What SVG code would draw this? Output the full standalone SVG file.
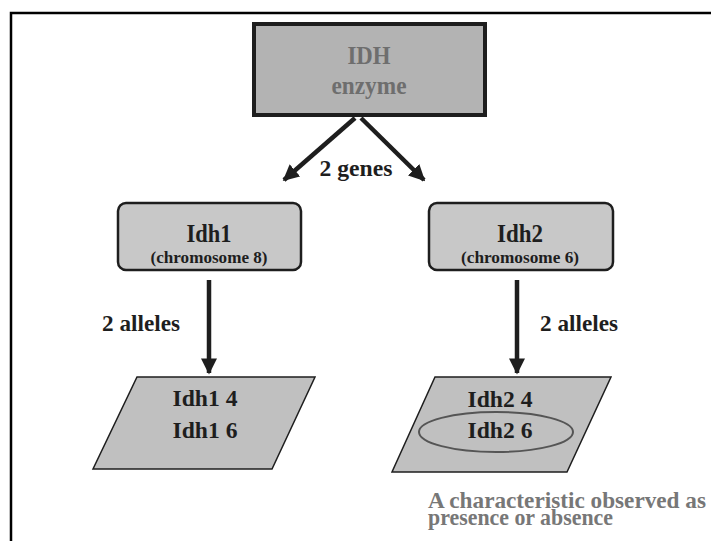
<svg xmlns="http://www.w3.org/2000/svg" width="711" height="541" viewBox="0 0 711 541">
<style>
  text { font-family: "Liberation Serif", "Times New Roman", serif; font-weight: bold; text-anchor: middle; }
  .dark { fill: #1e1e1e; }
  .note { fill: #777777; text-anchor: start; }
  .conn { stroke: #1e1e1e; stroke-width: 4.5; fill: none; }
</style>
<defs>
  <marker id="ah" viewBox="0 0 10 10" refX="9" refY="5" markerWidth="3.6" markerHeight="3.6" orient="auto" markerUnits="strokeWidth">
    <path d="M0,0 L10,5 L0,10 Z" fill="#1e1e1e"/>
  </marker>
</defs>
<rect width="711" height="541" fill="#ffffff"/>
<g id="frame">
  <path d="M11,541 V13 H711" fill="none" stroke="#000" stroke-width="2.5"/>
</g>
<g id="connectors">
  <line class="conn" x1="355" y1="118" x2="284" y2="180" marker-end="url(#ah)"/>
  <line class="conn" x1="361" y1="118" x2="424" y2="180" marker-end="url(#ah)"/>
  <line class="conn" x1="209" y1="280" x2="209" y2="373" marker-end="url(#ah)"/>
  <line class="conn" x1="517" y1="280" x2="517" y2="373" marker-end="url(#ah)"/>
  <text class="dark" x="356" y="176" font-size="24" textLength="73" lengthAdjust="spacingAndGlyphs">2 genes</text>
  <text class="dark" x="141" y="331" font-size="24" textLength="78" lengthAdjust="spacingAndGlyphs">2 alleles</text>
  <text class="dark" x="579" y="331" font-size="24" textLength="78" lengthAdjust="spacingAndGlyphs">2 alleles</text>
</g>
<g id="idh-enzyme">
  <rect x="254" y="24" width="231" height="91" fill="#b3b3b3" stroke="#1e1e1e" stroke-width="4"/>
  <text x="369" y="64" font-size="26" fill="#6e6e6e" textLength="43" lengthAdjust="spacingAndGlyphs">IDH</text>
  <text x="369" y="94" font-size="26" fill="#6e6e6e" textLength="75" lengthAdjust="spacingAndGlyphs">enzyme</text>
</g>
<g id="idh1">
  <rect x="118" y="203" width="183" height="67" rx="8" fill="#c8c8c8" stroke="#1e1e1e" stroke-width="2.5"/>
  <text class="dark" x="209" y="242" font-size="26" textLength="45" lengthAdjust="spacingAndGlyphs">Idh1</text>
  <text class="dark" x="209" y="263" font-size="17" textLength="117" lengthAdjust="spacingAndGlyphs">(chromosome 8)</text>
</g>
<g id="idh2">
  <rect x="429" y="203" width="184" height="67" rx="8" fill="#c8c8c8" stroke="#1e1e1e" stroke-width="2.5"/>
  <text class="dark" x="520" y="242" font-size="26" textLength="46" lengthAdjust="spacingAndGlyphs">Idh2</text>
  <text class="dark" x="520" y="263" font-size="17" textLength="118" lengthAdjust="spacingAndGlyphs">(chromosome 6)</text>
</g>
<g id="idh1-alleles">
  <polygon points="137,377 315,377 272,469 93,469" fill="#c0c0c0" stroke="#1e1e1e" stroke-width="1.5"/>
  <text class="dark" x="205" y="406" font-size="24" textLength="65" lengthAdjust="spacingAndGlyphs">Idh1 4</text>
  <text class="dark" x="205" y="438" font-size="24" textLength="65" lengthAdjust="spacingAndGlyphs">Idh1 6</text>
</g>
<g id="idh2-alleles">
  <polygon points="435,377 611,377 567,472 392,472" fill="#c0c0c0" stroke="#1e1e1e" stroke-width="1.5"/>
  <text class="dark" x="500" y="407" font-size="24" textLength="65" lengthAdjust="spacingAndGlyphs">Idh2 4</text>
  <ellipse cx="496" cy="432" rx="77" ry="20" fill="none" stroke="#555555" stroke-width="2"/>
  <text class="dark" x="500" y="438" font-size="24" textLength="65" lengthAdjust="spacingAndGlyphs">Idh2 6</text>
</g>
<g id="note">
  <text class="note" x="428" y="508" font-size="23" textLength="278" lengthAdjust="spacingAndGlyphs">A characteristic observed as</text>
  <text class="note" x="428" y="525" font-size="23" textLength="185" lengthAdjust="spacingAndGlyphs">presence or absence</text>
</g>
</svg>
